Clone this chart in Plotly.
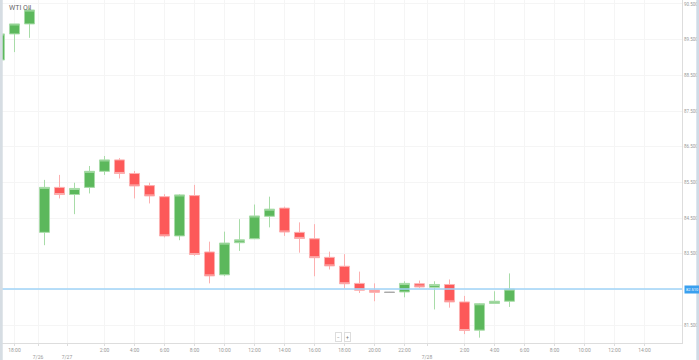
import plotly.graph_objects as go

title = "WTI Oil"
idx = list(range(35))
open_ = [88.93, 89.66, 89.94, 84.10, 85.36, 85.16, 85.36, 85.81, 86.13, 85.75,
         85.41, 85.10, 84.00, 85.13, 83.55, 82.91, 83.81, 83.92, 84.55, 84.78,
         84.10, 83.92, 83.40, 83.15, 82.67, 82.48, 82.42, 82.43, 82.66, 82.56,
         82.64, 82.15, 81.36, 82.11, 82.17]
high = [89.70, 89.94, 90.39, 85.57, 85.71, 85.49, 85.96, 86.24, 86.18, 85.82,
        85.49, 85.17, 85.17, 85.43, 83.84, 84.12, 84.47, 84.88, 85.10, 84.82,
        84.38, 84.33, 83.56, 83.49, 83.00, 82.67, 82.43, 82.73, 82.75, 82.73,
        82.78, 82.32, 82.12, 82.45, 82.95]
low = [88.93, 89.15, 89.55, 83.74, 85.05, 84.61, 85.19, 85.71, 85.61, 85.05,
       84.91, 83.96, 83.88, 83.44, 82.67, 82.87, 83.58, 83.91, 84.24, 84.00,
       83.53, 82.87, 83.06, 82.53, 82.40, 82.17, 82.41, 82.28, 82.54, 81.94,
       81.99, 81.25, 81.15, 82.10, 82.01]
close = [89.66, 89.94, 90.33, 85.36, 85.16, 85.33, 85.81, 86.13, 85.75, 85.40,
         85.12, 84.00, 85.15, 83.48, 82.88, 83.80, 83.89, 84.56, 84.75, 84.11,
         83.93, 83.39, 83.16, 82.66, 82.48, 82.42, 82.42, 82.67, 82.57, 82.64,
         82.15, 81.35, 82.10, 82.17, 82.51]

tick_pos = [1, 2.57, 4.5, 7, 9, 11, 13, 15, 17, 19, 21, 23, 25, 27, 28.5, 31, 33, 35, 37, 39, 41, 43]
tick_text = ["18:00", "<br>7/26", "<br>7/27", "2:00", "4:00", "6:00", "8:00", "10:00", "12:00",
             "14:00", "16:00", "18:00", "20:00", "22:00", "<br>7/28", "2:00", "4:00", "6:00",
             "8:00", "10:00", "12:00", "14:00"]
y_ticks = [81.5, 82.5, 83.5, 84.5, 85.5, 86.5, 87.5, 88.5, 89.5, 90.5]
y_labels = ["81.500", "", "83.500", "84.500", "85.500", "86.500", "87.500", "88.500", "89.500", "90.500"]
current_price = 82.51
current_label = "82.510"

main = [i for i in idx if open_[i] != close[i]]
doji = [i for i in idx if open_[i] == close[i]]

fig = go.Figure()
fig.add_trace(go.Candlestick(
    x=[idx[i] for i in main], open=[open_[i] for i in main], high=[high[i] for i in main],
    low=[low[i] for i in main], close=[close[i] for i in main],
    increasing=dict(fillcolor="#5cb85c", line=dict(color="#a8dca8", width=1)),
    decreasing=dict(fillcolor="#fd5959", line=dict(color="#fcb0b0", width=1)),
    whiskerwidth=0, showlegend=False, hoverinfo="skip"))
fig.add_trace(go.Candlestick(
    x=[idx[i] for i in doji], open=[open_[i] for i in doji], high=[high[i] for i in doji],
    low=[low[i] for i in doji], close=[close[i] for i in doji],
    increasing=dict(fillcolor="#aaaaaa", line=dict(color="#aaaaaa", width=1)),
    decreasing=dict(fillcolor="#aaaaaa", line=dict(color="#aaaaaa", width=1)),
    whiskerwidth=0, showlegend=False, hoverinfo="skip"))

fig.add_shape(type="line", xref="paper", x0=0, x1=1, yref="y", y0=current_price, y1=current_price,
              line=dict(color="#9fd3f7", width=1.5), layer="above")
fig.add_annotation(xref="paper", x=1.003, yref="y", y=current_price, text=current_label,
                   showarrow=False, xanchor="left", yanchor="middle", bgcolor="#3aa0ef",
                   font=dict(size=4, color="white", family="Roboto"), borderpad=1)
fig.add_annotation(xref="paper", x=0.01, yref="paper", y=0.993, text=title, showarrow=False,
                   xanchor="left", yanchor="top", font=dict(size=7, color="#666666", family="Roboto"))
# zoom buttons
fig.add_annotation(xref="paper", x=0.497, yref="paper", y=0.0, text="−", showarrow=False,
                   xanchor="center", yanchor="bottom", font=dict(size=5, color="#777777"),
                   bordercolor="#dddddd", borderwidth=1, borderpad=1, bgcolor="white", yshift=1)
fig.add_annotation(xref="paper", x=0.509, yref="paper", y=0.0, text="+", showarrow=False,
                   xanchor="center", yanchor="bottom", font=dict(size=5, color="#777777"),
                   bordercolor="#dddddd", borderwidth=1, borderpad=1, bgcolor="white", yshift=1)
# edge strips
fig.add_shape(type="rect", xref="paper", x0=-0.001, x1=0.004, yref="paper", y0=-0.06, y1=1,
              fillcolor="#d6dde3", line=dict(width=0), layer="above")
fig.add_shape(type="rect", xref="paper", x0=1.021, x1=1.03, yref="paper", y0=-0.06, y1=1,
              fillcolor="#cfdbe6", line=dict(width=0), layer="above")

fig.update_layout(
    width=699, height=360, margin=dict(l=0, r=17, t=0, b=17),
    paper_bgcolor="white", plot_bgcolor="white", boxgap=0.33, boxgroupgap=0,
    font=dict(family="Roboto", size=5, color="#999999"),
    xaxis=dict(range=[0.033, 45.5], tickvals=tick_pos, ticktext=tick_text, showgrid=True,
               gridcolor="#f5f5f5", gridwidth=1, zeroline=False, showline=True, linecolor="#dddddd",
               ticks="outside", ticklen=2, tickcolor="#dddddd", rangeslider=dict(visible=False),
               tickfont=dict(size=5, color="#999999"), fixedrange=True),
    yaxis=dict(range=[81.0, 90.61], side="right", tickvals=y_ticks, ticktext=y_labels,
               showgrid=True, gridcolor="#f5f5f5", zeroline=False, showline=True,
               linecolor="#dddddd", tickfont=dict(size=4.5, color="#999999"), ticks="", fixedrange=True),
)

fig.write_html("out.html")
